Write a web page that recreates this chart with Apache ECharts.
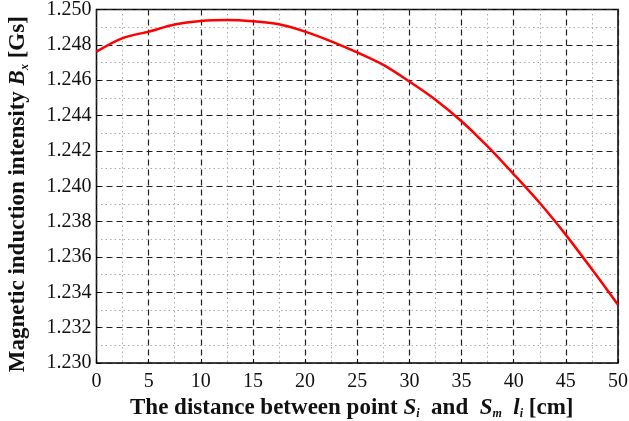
<!DOCTYPE html>
<html>
<head>
<meta charset="utf-8">
<script src="https://cdn.jsdelivr.net/npm/echarts@6/dist/echarts.min.js"></script>
<style>
  html, body { margin: 0; padding: 0; background: #fff; }
  #main { width: 629px; height: 421px; }
</style>
</head>
<body>
<div id="main"></div>
<script>
// distance l_i [cm] and field B_x [Gs]
var distance = [0, 2.5, 5, 7.5, 10, 12.5, 15, 17.5, 20, 22.5, 25, 27.5, 30, 32.5, 35, 37.5, 40, 42.5, 45, 47.5, 50];
var fieldBx = [1.24762, 1.24838, 1.24875, 1.24915, 1.24935, 1.24940, 1.24933, 1.24916, 1.24875, 1.24820, 1.24757,
               1.24687, 1.24593, 1.24490, 1.24368, 1.24225, 1.24068, 1.23905, 1.23725, 1.23530, 1.23330];

var xTicks = [0, 50, 5];
var yTicks = [1.230, 1.250, 0.002];

var serif = '"Liberation Serif", "Times New Roman", serif';

var chart = echarts.init(document.getElementById('main'));

var points = [];
for (var i = 0; i < distance.length; i++) {
	points.push([distance[i], fieldBx[i]]);
}

function titleRich(size) {
	return {
		b: { fontFamily: serif, fontSize: size, fontWeight: 'bold', color: '#111' },
		bi: { fontFamily: serif, fontSize: size, fontWeight: 'bold', fontStyle: 'italic', color: '#111' },
		sub: { fontFamily: serif, fontSize: 12, fontWeight: 'bold', fontStyle: 'italic', color: '#111', verticalAlign: 'bottom', padding: [12, 0, 0, 0] }
	};
}

var option = {
	animation: false,
	grid: {
		left: 96.5,
		right: 11,
		top: 9.5,
		bottom: 58,
		outerBoundsMode: 'none',
		containLabel: false,
		show: true,
		borderColor: '#000',
		borderWidth: 1.5,
		backgroundColor: 'transparent'
	},
	xAxis: {
		type: 'value',
		min: xTicks[0],
		max: xTicks[1],
		interval: xTicks[2],
		name: '{b|The distance between point }{bi|S}{sub|i}{b|  and  }{bi|S}{sub|m}{b|  }{bi|l}{sub|i}{b| [cm]}',
		nameLocation: 'middle',
		nameGap: 29,
		nameTextStyle: { rich: titleRich(23), padding: [0, 11, 0, 0] },
		axisLine: { show: false },
		axisTick: { show: true, inside: true, length: 4, lineStyle: { color: '#000' } },
		axisLabel: { fontFamily: serif, fontSize: 20, color: '#111', margin: 9 },
		splitLine: { show: true, lineStyle: { color: '#222', type: [6, 4], width: 1.2 } },
		minorTick: { show: false, splitNumber: 2 },
		minorSplitLine: { show: true, lineStyle: { color: '#aaa', type: [1.5, 3], width: 1 } }
	},
	yAxis: {
		type: 'value',
		min: yTicks[0],
		max: yTicks[1],
		interval: yTicks[2],
		name: '{b|Magnetic induction intensity }{bi|B}{sub|x}{b| [Gs]}',
		nameLocation: 'middle',
		nameGap: 66,
		nameTextStyle: { rich: titleRich(23), padding: [0, 16, 0, 0] },
		axisLine: { show: false },
		axisTick: { show: true, inside: true, length: 4, lineStyle: { color: '#000' } },
		axisLabel: {
			fontFamily: serif, fontSize: 20, color: '#111', margin: 5,
			formatter: function (v) { return v.toFixed(3); }
		},
		splitLine: { show: true, lineStyle: { color: '#222', type: [6, 4], width: 1.2 } },
		minorTick: { show: false, splitNumber: 2 },
		minorSplitLine: { show: true, lineStyle: { color: '#aaa', type: [1.5, 3], width: 1 } }
	},
	series: [{
		type: 'line',
		data: points,
		smooth: 0.3,
		showSymbol: false,
		lineStyle: { color: '#ff0000', width: 2.5 }
	}]
};

chart.setOption(option);
</script>
</body>
</html>
